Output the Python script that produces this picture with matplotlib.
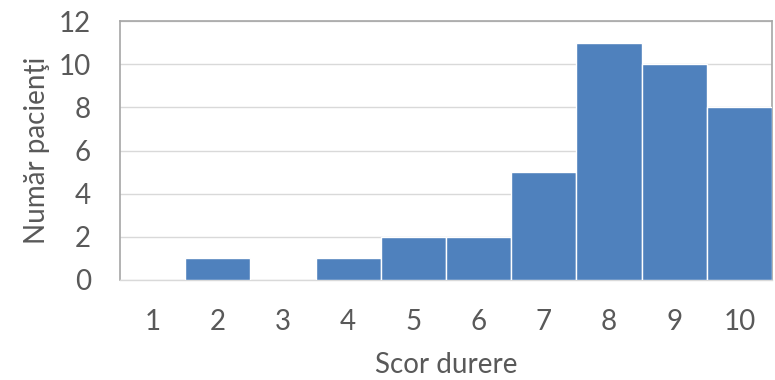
import matplotlib
matplotlib.use("Agg")
import matplotlib.pyplot as plt

scores = [1, 2, 3, 4, 5, 6, 7, 8, 9, 10]
patients = [0, 1, 0, 1, 2, 2, 5, 11, 10, 8]
y_ticks = [0, 2, 4, 6, 8, 10, 12]

plt.rcParams['font.family'] = ['Lato', 'DejaVu Sans']
text_color = '#595959'

fig = plt.figure(figsize=(7.75, 3.8), dpi=100)
ax = fig.add_axes([120/775, 1 - 280/380, (772 - 120)/775, (280 - 21)/380])

ax.bar(scores, patients, width=1.0, color='#4F81BD', edgecolor='white',
       linewidth=1.0, zorder=3)

ax.set_xlim(0.5, 10.5)
ax.set_ylim(0, 12)
ax.set_yticks(y_ticks)
ax.set_xticks(scores)
ax.yaxis.grid(True, color='#D9D9D9', linewidth=1.0, zorder=0)
ax.tick_params(axis='both', length=0, labelsize=20, colors=text_color)
ax.tick_params(axis='x', pad=21)
ax.tick_params(axis='y', pad=21)
for side in ['left', 'top', 'right']:
    ax.spines[side].set_color('#A6A6A6')
    ax.spines[side].set_linewidth(1.2)
ax.spines['bottom'].set_color('#D9D9D9')
ax.spines['bottom'].set_linewidth(1.0)

ax.set_xlabel('Scor durere', fontsize=20, color=text_color, labelpad=12)
ax.set_ylabel('Număr pacienţi', fontsize=20, color=text_color, labelpad=6)

fig.savefig('out.png', dpi=100)
